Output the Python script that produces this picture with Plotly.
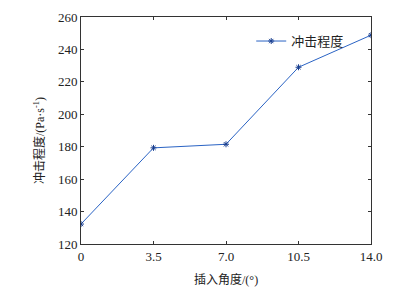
import plotly.graph_objects as go

angles = [0, 3.5, 7.0, 10.5, 14.0]
impact = [132.3, 179.3, 181.5, 229.0, 248.8]
x_ticks = [0, 3.5, 7.0, 10.5, 14.0]
x_tick_labels = ["0", "3.5", "7.0", "10.5", "14.0"]
y_ticks = [120, 140, 160, 180, 200, 220, 240, 260]
series_name = "冲击程度"
x_title = "插入角度/(°)"
y_title = "冲击程度/(Pa·s<sup>-1</sup>)"

font_fam = "'Liberation Serif', 'Noto Sans CJK SC', serif"
W, H = 398, 287
L, R, T, B = 81, 27, 17, 43

fig = go.Figure()
fig.add_trace(go.Scatter(
    x=angles, y=impact, mode="lines+markers", name=series_name,
    line=dict(color="#2a63c4", width=1),
    marker=dict(symbol="asterisk", size=5, color="#1a3f8f",
                line=dict(color="#1a3f8f", width=1)),
))

axis_common = dict(
    showline=True, linecolor="#333333", linewidth=1, mirror="ticks",
    ticks="inside", ticklen=3, tickcolor="#333333",
    showgrid=False, zeroline=False, automargin=False,
    tickfont=dict(family=font_fam, size=13, color="#222222"),
)

pw, ph = W - L - R, H - T - B
fig.update_layout(
    width=W, height=H,
    margin=dict(l=L, r=R, t=T, b=B, autoexpand=False),
    paper_bgcolor="white", plot_bgcolor="white",
    font=dict(family=font_fam, color="#222222"),
    xaxis=dict(range=[0, 14], tickvals=x_ticks, ticktext=x_tick_labels, **axis_common),
    yaxis=dict(range=[120, 260], tickvals=y_ticks, **axis_common),
    showlegend=True,
    legend=dict(x=0.587, y=0.96, xanchor="left", yanchor="top",
                bgcolor="rgba(0,0,0,0)", font=dict(size=13), itemwidth=30),
    annotations=[
        dict(text=x_title, xref="paper", yref="paper",
             x=(226 - L) / pw, y=-(279 - (H - B)) / ph,
             xanchor="center", yanchor="middle", showarrow=False,
             font=dict(size=12)),
        dict(text=y_title, xref="paper", yref="paper",
             x=-(L - 39) / pw, y=((H - B) - 141) / ph,
             xanchor="center", yanchor="middle", showarrow=False,
             textangle=-90, font=dict(size=12)),
    ],
)

fig.write_html("out.html", config={"displayModeBar": False},
               post_script="document.body.style.margin='0';document.body.style.padding='0';")
